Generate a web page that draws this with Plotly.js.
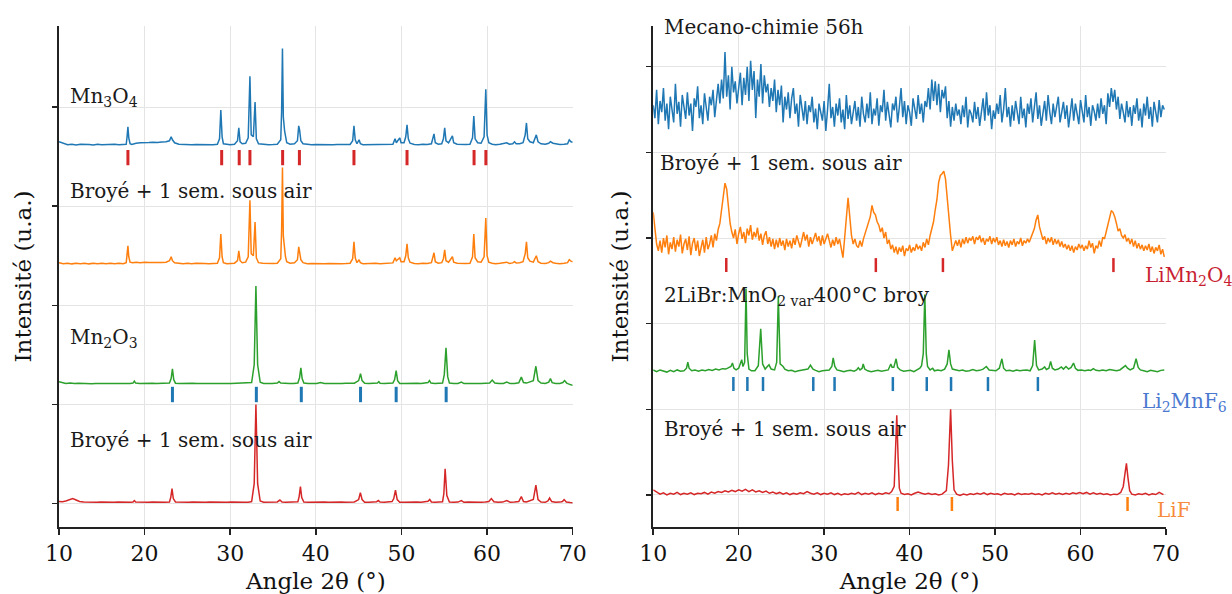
<!DOCTYPE html>
<html><head><meta charset="utf-8">
<script src="https://cdn.plot.ly/plotly-3.0.1.min.js"></script>
<style>html,body{margin:0;padding:0;background:#fff}#chart{width:1232px;height:594px}</style>
</head><body><div id="chart"></div>
<script>
// ---------------- DATA (2θ in degrees, intensity in arbitrary units) ----------------
// Left panel: Mn3O4 / Mn2O3 patterns, [2θ, intensity]
const mn3o4Profile = [[10,.05],[10.5,.035],[11,.02],[11.5,.025],[12,.018],[12.5,.025],[13,.02],[13.5,.022],[14,.018],[14.5,.025],[15,.02],[15.5,.022],[16,.018],[16.5,.025],[17,.02],[17.5,.022],[17.85,.025],[17.95,.1],[18.05,.2],[18.15,.09],[18.3,.03],[18.5,.022],[19,.035],[19.5,.04],[20,.038],[20.5,.042],[21,.045],[21.5,.042],[22,.048],[22.5,.05],[22.9,.06],[23.1,.1],[23.25,.07],[23.5,.04],[24,.025],[24.5,.022],[25,.02],[25.5,.02],[26,.022],[26.5,.02],[27,.021],[27.5,.02],[28,.02],[28.5,.025],[28.75,.08],[28.9,.37],[29.05,.1],[29.2,.03],[29.6,.022],[30,.02],[30.5,.025],[30.85,.06],[31,.19],[31.15,.05],[31.4,.03],[31.8,.035],[32.1,.09],[32.3,.71],[32.45,.12],[32.7,.1],[32.9,.45],[33.05,.08],[33.3,.03],[33.8,.025],[34.5,.02],[35,.022],[35.5,.025],[35.9,.07],[36,.35],[36.1,.99],[36.2,.3],[36.35,.16],[36.45,.12],[36.6,.04],[37,.025],[37.5,.03],[37.85,.06],[38,.21],[38.1,.17],[38.25,.06],[38.5,.03],[39,.022],[39.5,.02],[40,.022],[40.5,.02],[41,.022],[41.5,.02],[42,.02],[42.5,.022],[43,.02],[43.5,.02],[44,.022],[44.3,.06],[44.45,.21],[44.6,.07],[44.8,.03],[45.05,.07],[45.2,.03],[45.5,.02],[46,.02],[46.5,.022],[47,.02],[47.5,.02],[48,.022],[48.5,.02],[49,.025],[49.25,.08],[49.4,.04],[49.8,.09],[49.95,.04],[50.3,.04],[50.5,.1],[50.65,.22],[50.8,.08],[51,.035],[51.5,.022],[52,.02],[52.5,.025],[53,.022],[53.5,.03],[53.8,.13],[53.95,.04],[54.3,.025],[54.7,.03],[54.9,.08],[55.05,.19],[55.2,.06],[55.5,.04],[55.95,.11],[56.1,.04],[56.5,.025],[57,.02],[57.5,.022],[58,.025],[58.3,.09],[58.45,.31],[58.6,.08],[58.9,.04],[59.3,.035],[59.65,.1],[59.85,.58],[60,.12],[60.2,.04],[60.6,.025],[61,.02],[61.5,.025],[62,.03],[62.3,.04],[62.6,.025],[63,.03],[63.2,.05],[63.4,.03],[63.8,.03],[64.2,.04],[64.45,.12],[64.6,.24],[64.75,.08],[65,.05],[65.4,.04],[65.75,.12],[65.95,.05],[66.3,.03],[66.8,.025],[67.2,.035],[67.4,.05],[67.7,.035],[68,.03],[68.5,.022],[69,.025],[69.4,.03],[69.6,.07],[69.8,.05],[70,.045]];
const mn3o4AirProfile = [[10,.03],[10.5,.02],[11,.025],[11.5,.018],[12,.024],[12.5,.02],[13,.025],[13.5,.018],[14,.024],[14.5,.02],[15,.025],[15.5,.02],[16,.024],[16.5,.02],[17,.025],[17.5,.02],[17.85,.03],[17.95,.1],[18.05,.2],[18.15,.09],[18.3,.035],[18.6,.03],[19,.035],[19.5,.03],[20,.035],[20.5,.032],[21,.03],[21.5,.035],[22,.032],[22.5,.035],[22.9,.05],[23.1,.09],[23.25,.05],[23.5,.03],[24,.025],[24.5,.02],[25,.024],[25.5,.02],[26,.025],[26.5,.02],[27,.022],[27.5,.02],[28,.022],[28.5,.025],[28.75,.08],[28.9,.32],[29.05,.09],[29.2,.03],[29.6,.02],[30,.022],[30.5,.025],[30.85,.05],[31,.15],[31.15,.05],[31.4,.03],[31.8,.035],[32.1,.09],[32.3,.66],[32.45,.12],[32.7,.1],[32.9,.44],[33.05,.08],[33.3,.03],[33.8,.025],[34.5,.02],[35,.022],[35.5,.025],[35.9,.07],[36,.35],[36.1,.99],[36.2,.3],[36.35,.12],[36.45,.09],[36.6,.04],[37,.025],[37.5,.03],[37.85,.06],[38,.19],[38.1,.15],[38.25,.06],[38.5,.03],[39,.02],[39.5,.022],[40,.02],[40.5,.024],[41,.02],[41.5,.022],[42,.02],[42.5,.024],[43,.02],[43.5,.022],[44,.025],[44.3,.07],[44.45,.24],[44.6,.08],[44.8,.03],[45.05,.06],[45.2,.03],[45.5,.02],[46,.022],[46.5,.02],[47,.024],[47.5,.02],[48,.022],[48.5,.02],[49,.028],[49.25,.08],[49.4,.05],[49.8,.08],[49.95,.04],[50.3,.04],[50.5,.1],[50.65,.22],[50.8,.08],[51,.035],[51.5,.022],[52,.02],[52.5,.025],[53,.022],[53.5,.03],[53.8,.13],[53.95,.04],[54.3,.025],[54.7,.03],[54.9,.07],[55.05,.16],[55.2,.05],[55.5,.035],[55.95,.09],[56.1,.035],[56.5,.025],[57,.02],[57.5,.022],[58,.025],[58.3,.09],[58.45,.32],[58.6,.08],[58.9,.04],[59.3,.035],[59.65,.09],[59.85,.48],[60,.1],[60.2,.035],[60.6,.025],[61,.02],[61.5,.025],[62,.028],[62.3,.035],[62.6,.022],[63,.028],[63.2,.04],[63.4,.028],[63.8,.03],[64.2,.04],[64.45,.12],[64.6,.24],[64.75,.08],[65,.045],[65.4,.035],[65.75,.1],[65.95,.04],[66.3,.025],[66.8,.022],[67.2,.03],[67.4,.045],[67.7,.03],[68,.025],[68.5,.02],[69,.024],[69.4,.03],[69.6,.06],[69.8,.045],[70,.04]];
const mn2o3Profile = [[10,.03],[10.4,.02],[10.8,.012],[11.3,.015],[11.8,.01],[12.3,.014],[12.8,.01],[13.3,.013],[13.8,.009],[14.3,.012],[14.8,.01],[15.3,.014],[15.8,.01],[16.3,.012],[16.8,.009],[17.3,.013],[17.8,.01],[18.3,.012],[18.65,.015],[18.8,.035],[18.95,.015],[19.4,.01],[19.9,.012],[20.4,.01],[20.9,.013],[21.4,.01],[21.9,.012],[22.4,.011],[22.9,.015],[23.1,.06],[23.25,.16],[23.4,.05],[23.6,.014],[24.1,.01],[24.6,.012],[25.1,.01],[25.6,.013],[26.1,.01],[26.6,.012],[27.1,.009],[27.6,.012],[28.1,.01],[28.6,.013],[29.1,.01],[29.6,.012],[30.1,.01],[30.6,.012],[31.1,.01],[31.6,.012],[32.1,.011],[32.5,.02],[32.8,.2],[33,.995],[33.2,.2],[33.5,.025],[33.9,.012],[34.4,.01],[34.9,.012],[35.5,.015],[35.7,.03],[35.9,.015],[36.4,.01],[36.9,.012],[37.4,.01],[37.9,.015],[38.1,.07],[38.25,.17],[38.4,.06],[38.6,.015],[39.1,.01],[39.6,.012],[40.1,.01],[40.55,.02],[41,.01],[41.5,.012],[42,.01],[42.5,.012],[43,.01],[43.5,.013],[44,.01],[44.5,.014],[45,.04],[45.22,.11],[45.4,.04],[45.7,.013],[46.2,.01],[46.7,.012],[47.2,.015],[47.36,.03],[47.5,.014],[48,.01],[48.5,.012],[49,.015],[49.2,.05],[49.38,.14],[49.55,.04],[49.8,.012],[50.3,.01],[50.8,.012],[51.3,.01],[51.8,.013],[52.3,.01],[52.8,.012],[53.1,.02],[53.27,.04],[53.45,.015],[53.9,.012],[54.4,.01],[54.8,.015],[55,.1],[55.2,.37],[55.4,.08],[55.6,.015],[56.1,.01],[56.6,.012],[57,.025],[57.3,.01],[57.8,.012],[58.3,.01],[58.8,.012],[59.3,.01],[59.8,.013],[60.3,.015],[60.6,.045],[60.9,.015],[61.4,.01],[61.9,.012],[62.3,.025],[62.7,.01],[63.2,.012],[63.7,.018],[64,.075],[64.25,.02],[64.6,.015],[65.4,.04],[65.7,.185],[65.95,.04],[66.3,.015],[66.8,.012],[67.2,.025],[67.4,.06],[67.6,.02],[68,.01],[68.5,.012],[68.85,.02],[69.05,.04],[69.3,.015],[69.7,0],[70,-.008]];
const mn2o3AirProfile = [[10,.02],[10.4,.018],[10.8,.025],[11.2,.04],[11.6,.05],[12,.035],[12.4,.02],[12.9,.015],[13.4,.012],[13.9,.015],[14.4,.012],[14.9,.014],[15.4,.012],[15.9,.015],[16.4,.012],[16.9,.014],[17.4,.012],[17.9,.015],[18.4,.013],[18.65,.015],[18.8,.03],[18.95,.015],[19.4,.013],[19.9,.015],[20.4,.012],[20.9,.015],[21.4,.013],[21.9,.015],[22.4,.012],[22.9,.016],[23.05,.06],[23.2,.15],[23.35,.05],[23.6,.015],[24.1,.012],[24.6,.015],[25.1,.012],[25.6,.014],[26.1,.012],[26.6,.015],[27.1,.012],[27.6,.014],[28.1,.012],[28.6,.016],[29.1,.014],[29.6,.012],[30.1,.015],[30.6,.012],[31.1,.014],[31.6,.012],[32.1,.013],[32.5,.02],[32.8,.2],[33,1.0],[33.2,.2],[33.5,.025],[33.9,.012],[34.4,.014],[34.9,.012],[35.5,.016],[35.8,.035],[36.05,.015],[36.5,.012],[37,.014],[37.5,.012],[37.9,.018],[38.05,.07],[38.2,.17],[38.35,.06],[38.6,.015],[39.1,.012],[39.6,.014],[40.1,.012],[40.6,.02],[41,.015],[41.5,.012],[42,.014],[42.5,.012],[43,.014],[43.5,.012],[44,.014],[44.5,.016],[45,.04],[45.2,.11],[45.4,.04],[45.7,.013],[46.2,.012],[46.7,.014],[47.1,.018],[47.3,.03],[47.5,.014],[48,.012],[48.5,.015],[48.9,.02],[49.1,.05],[49.3,.135],[49.5,.04],[49.8,.013],[50.3,.012],[50.8,.014],[51.3,.012],[51.8,.014],[52.3,.012],[52.8,.014],[53.1,.022],[53.3,.04],[53.5,.015],[53.9,.012],[54.4,.014],[54.8,.018],[54.95,.1],[55.1,.35],[55.3,.08],[55.6,.016],[56.1,.012],[56.6,.014],[57,.03],[57.3,.012],[57.8,.014],[58.3,.012],[58.8,.014],[59.3,.012],[59.8,.015],[60.2,.02],[60.5,.05],[60.8,.018],[61.3,.012],[61.8,.014],[62.3,.03],[62.7,.012],[63.2,.014],[63.7,.02],[64,.07],[64.25,.02],[64.6,.016],[65.4,.04],[65.7,.185],[65.95,.04],[66.3,.015],[66.8,.012],[67.1,.025],[67.3,.055],[67.55,.02],[68,.012],[68.5,.014],[68.8,.02],[69,.04],[69.25,.015],[69.7,.01],[70,.008]];

// Right panel: noisy scans on a regular 2θ grid (start 10°, step 0.2°), one row = 2°
const scanStart = 10, scanStep = 0.2;
const mecanoValues = [
 0.10,-0.05,0.28,-0.12,0.15,0.02,0.30,-0.08,0.12,-0.18,
 0.20,0.05,-0.10,0.35,0.00,0.14,-0.15,0.22,0.06,-0.06,
 0.25,-0.02,0.12,-0.20,0.18,0.08,0.32,-0.05,0.10,-0.12,
 0.24,0.04,-0.08,0.20,0.10,0.28,-0.04,0.16,0.35,0.12,
 0.40,0.18,0.72,0.20,0.45,0.05,0.55,0.25,0.38,0.12,
 0.30,0.48,0.10,0.42,0.22,0.55,0.15,0.62,0.28,0.50,
 -0.05,0.40,0.20,0.58,0.12,0.45,0.25,0.35,0.08,0.30,
 0.15,0.40,0.02,0.28,0.10,0.33,-0.10,0.20,0.05,0.25,
 -0.05,0.18,0.30,0.00,0.12,-0.15,0.22,0.05,-0.08,0.15,
 -0.12,0.10,0.02,0.20,-0.10,0.06,-0.18,0.12,0.00,-0.08,
 0.15,-0.20,0.05,0.35,-0.05,0.08,-0.15,0.12,-0.02,0.18,
 -0.10,0.05,-0.18,0.22,-0.06,0.10,-0.12,0.02,0.15,-0.08,
 0.08,-0.15,0.20,0.00,-0.10,0.12,-0.05,0.25,-0.12,0.06,
 -0.02,0.18,-0.14,0.10,0.02,0.28,-0.08,0.14,0.00,-0.16,
 0.12,0.04,0.20,-0.10,0.08,0.30,-0.04,0.15,-0.12,0.10,
 0.02,-0.14,0.18,0.05,-0.06,0.22,0.00,0.12,-0.10,0.15,
 0.08,0.30,0.05,0.40,0.15,0.38,0.10,0.35,0.02,0.28,
 0.18,0.32,-0.05,0.15,-0.15,0.08,-0.08,0.12,-0.02,0.05,
 -0.12,0.10,-0.04,0.20,-0.16,0.05,0.00,-0.10,0.14,-0.06,
 0.08,-0.14,0.02,0.18,-0.08,0.25,-0.02,0.10,-0.18,0.04,
 -0.06,0.12,0.00,0.22,-0.10,0.05,0.30,-0.04,0.08,-0.15,
 0.10,-0.08,0.15,0.02,-0.12,0.20,-0.05,0.06,-0.16,0.12,
 0.00,0.18,-0.10,0.08,0.25,-0.06,0.10,-0.14,0.04,0.15,
 -0.08,0.22,0.02,-0.12,0.12,-0.04,0.08,0.20,-0.10,0.05,
 0.14,-0.06,0.10,-0.16,0.04,0.18,-0.08,0.12,0.00,-0.12,
 0.16,0.02,-0.10,0.22,-0.04,0.08,-0.14,0.10,0.03,-0.08,
 0.12,-0.05,0.18,0.00,0.10,-0.12,0.24,0.08,0.30,0.14,
 0.28,0.05,0.20,-0.06,0.12,0.02,-0.10,0.15,-0.04,0.08,
 -0.14,0.10,0.00,0.18,-0.08,0.06,-0.16,0.12,-0.02,0.20,
 -0.06,0.08,-0.15,0.14,0.02,-0.10,0.16,-0.04,0.10,0.05];
const limnAirValues = [
 0.35,0.12,-0.02,-0.10,0.02,-0.12,0.05,-0.06,0.08,-0.14,
 0.00,-0.08,0.06,-0.11,0.03,-0.05,0.09,-0.13,-0.02,0.04,
 -0.09,0.07,-0.15,-0.01,0.05,-0.10,0.02,-0.16,-0.04,0.03,
 -0.12,0.06,-0.08,-0.02,0.08,-0.06,0.10,0.02,0.15,0.22,
 0.38,0.55,0.69,0.62,0.42,0.22,0.12,0.05,0.15,-0.02,
 0.10,0.18,0.04,0.12,-0.01,0.16,0.08,0.20,0.03,0.12,
 0.06,0.17,0.02,0.10,-0.03,0.08,0.13,-0.02,0.06,-0.05,
 0.04,-0.08,0.03,-0.06,0.05,-0.04,0.02,-0.09,0.04,-0.05,
 0.02,-0.07,0.05,-0.03,0.08,0.00,-0.06,0.03,0.12,0.02,
 0.09,-0.05,0.06,-0.02,0.04,0.11,0.01,0.07,-0.04,0.08,
 -0.02,0.05,0.10,0.02,-0.06,0.03,-0.04,0.06,-0.02,0.04,
 -0.08,-0.18,0.05,0.32,0.52,0.30,0.08,-0.02,0.04,-0.04,
 -0.06,0.02,-0.05,0.04,0.10,0.16,0.22,0.30,0.43,0.35,
 0.32,0.24,0.20,0.12,0.17,0.05,0.12,-0.02,0.03,-0.08,
 -0.03,-0.12,-0.05,-0.14,-0.06,-0.11,-0.04,-0.16,-0.07,-0.10,
 -0.03,-0.12,-0.06,-0.10,-0.02,-0.08,-0.04,-0.10,0.00,-0.06,
 0.04,-0.03,0.08,0.15,0.24,0.38,0.50,0.70,0.78,0.80,
 0.83,0.74,0.50,0.35,0.08,-0.10,-0.05,0.02,-0.04,0.03,
 -0.06,0.04,-0.02,0.06,-0.01,0.05,0.02,0.07,-0.02,0.06,
 0.03,0.08,0.00,0.05,-0.03,0.04,0.01,0.07,-0.02,0.05,
 0.00,0.06,-0.03,0.02,-0.05,0.03,-0.04,0.01,-0.06,0.02,
 -0.03,0.04,-0.05,0.01,-0.02,0.05,-0.04,0.02,-0.01,0.04,
 0.00,0.06,0.10,0.16,0.26,0.32,0.18,0.10,0.03,0.07,
 -0.02,0.05,0.00,0.06,-0.03,0.04,-0.02,0.03,-0.05,0.01,
 -0.06,-0.02,-0.08,-0.03,-0.10,-0.04,-0.12,-0.05,-0.09,-0.02,
 -0.07,-0.03,-0.10,-0.04,-0.08,0.02,-0.06,-0.01,-0.13,-0.04,
 -0.07,0.02,-0.05,0.06,0.04,0.12,0.20,0.30,0.37,0.35,
 0.30,0.22,0.13,0.16,0.08,0.05,0.09,0.01,0.05,-0.02,
 0.04,-0.05,0.02,-0.07,-0.01,-0.08,-0.03,-0.10,-0.04,-0.09,
 -0.02,-0.11,-0.05,-0.13,-0.06,-0.10,-0.03,-0.14,-0.08,-0.17];
const librProfile = [[10,.01],[10.4,-.01],[10.8,.01],[11.2,0],[11.6,-.015],[12,.005],[12.4,-.01],[12.8,.01],[13.2,-.005],[13.6,0],[13.9,.03],[14.05,.1],[14.2,.03],[14.5,0],[14.9,.01],[15.3,-.005],[15.7,.01],[16.1,0],[16.5,.015],[16.9,.005],[17.3,.02],[17.7,.01],[18.1,.025],[18.5,.02],[18.9,.035],[19.1,.05],[19.27,.09],[19.45,.03],[19.7,.01],[20,.03],[20.36,.13],[20.5,.05],[20.7,.1],[20.86,.96],[21,.2],[21.2,.02],[21.5,0],[21.9,0],[22.3,.06],[22.58,.49],[22.8,.08],[23.1,.02],[23.35,.05],[23.55,.07],[23.8,.02],[24.2,.01],[24.45,.1],[24.64,.87],[24.85,.08],[25.2,.05],[25.4,.02],[25.8,0],[26.2,.005],[26.6,-.01],[27,0],[27.4,.005],[27.8,.01],[28.1,.02],[28.4,.065],[28.7,.02],[29,.005],[29.4,-.01],[29.8,0],[30.2,.005],[30.6,.01],[30.9,.05],[31.06,.15],[31.25,.05],[31.5,.01],[31.9,0],[32.3,-.01],[32.7,0],[33.1,.005],[33.5,-.005],[33.8,.01],[34,.035],[34.2,.01],[34.45,.03],[34.57,.08],[34.75,.02],[35.1,0],[35.5,-.01],[35.9,0],[36.3,.005],[36.7,-.005],[37.1,0],[37.5,.01],[37.8,.08],[37.95,.04],[38.15,.04],[38.42,.14],[38.6,.04],[38.9,.01],[39.3,-.005],[39.7,0],[40.1,.005],[40.5,-.01],[40.9,.01],[41.2,.03],[41.4,.06],[41.6,.2],[41.78,.89],[41.95,.2],[42.1,.05],[42.4,.01],[42.7,.03],[42.9,0],[43.3,.01],[43.7,0],[44.1,.02],[44.4,.08],[44.6,.245],[44.8,.08],[45,.02],[45.4,.01],[45.8,0],[46.2,.01],[46.6,-.005],[47,0],[47.4,.015],[47.8,0],[48.2,.005],[48.6,.02],[48.98,.05],[49.3,.01],[49.7,.005],[50.1,0],[50.5,.03],[50.8,.14],[51,.03],[51.3,0],[51.7,.005],[52.1,-.005],[52.5,.01],[52.9,0],[53.3,.005],[53.7,.01],[54.1,0],[54.4,.06],[54.63,.36],[54.85,.06],[55.1,.01],[55.5,.02],[55.8,.045],[56,.015],[56.3,.03],[56.5,.11],[56.7,.03],[57,.01],[57.4,.02],[57.75,.045],[58,.02],[58.3,.05],[58.6,.02],[58.9,.04],[59.18,.09],[59.4,.03],[59.7,.005],[60.1,.01],[60.5,0],[60.9,.01],[61.2,.005],[61.5,.025],[61.8,.005],[62.2,0],[62.6,.01],[63,0],[63.4,.015],[63.8,.005],[64.2,0],[64.6,.01],[64.9,.03],[65.26,.06],[65.5,.03],[65.8,.01],[66.2,.03],[66.5,.14],[66.75,.04],[67,.01],[67.4,0],[67.8,-.01],[68.2,.005],[68.6,0],[69,-.01],[69.4,.005],[69.8,.01]];
const librAirProfile = [[10,.06],[10.4,.03],[10.8,.01],[11.2,.025],[11.6,0],[12,.02],[12.4,.01],[12.8,.03],[13.2,.005],[13.6,.02],[14,.01],[14.4,.025],[14.8,.005],[15.2,.02],[15.6,.015],[16,.03],[16.4,.01],[16.8,.035],[17.2,.02],[17.6,.04],[18,.03],[18.4,.05],[18.8,.035],[19.2,.055],[19.6,.04],[20,.06],[20.4,.045],[20.8,.065],[21.2,.04],[21.6,.06],[22,.035],[22.4,.05],[22.8,.03],[23.2,.045],[23.6,.02],[24,.035],[24.4,.015],[24.8,.03],[25.2,.01],[25.6,.025],[26,.005],[26.4,.02],[26.8,.01],[27.2,.025],[27.6,.015],[28,.04],[28.4,.02],[28.8,.01],[29.2,.025],[29.6,.005],[30,.02],[30.4,.01],[30.8,.025],[31.2,.005],[31.6,.02],[32,0],[32.4,.015],[32.8,.005],[33.2,.02],[33.6,.01],[34,.03],[34.4,.005],[34.8,.02],[35.2,.01],[35.6,.025],[36,.005],[36.4,.02],[36.8,.01],[37.2,.025],[37.6,.015],[37.9,.04],[38.2,.1],[38.35,.5],[38.5,.93],[38.65,.45],[38.8,.08],[39,.02],[39.4,.005],[39.8,.015],[40.2,0],[40.6,.02],[41,.035],[41.4,.02],[41.8,.01],[42.2,.02],[42.6,.005],[43,.015],[43.4,0],[43.8,.01],[44.3,.05],[44.55,.35],[44.8,1.0],[45,.4],[45.2,.06],[45.5,.01],[45.9,-.005],[46.3,.01],[46.7,0],[47.1,.015],[47.5,.005],[47.9,.02],[48.3,.01],[48.7,.025],[49.1,.005],[49.5,.02],[49.9,.01],[50.3,.015],[50.7,0],[51.1,.02],[51.5,.01],[51.9,.015],[52.3,0],[52.7,.02],[53.1,.005],[53.5,.015],[53.9,.01],[54.3,.02],[54.7,.005],[55.1,.015],[55.5,0],[55.9,.02],[56.3,.01],[56.7,.025],[57.1,.01],[57.5,.02],[57.9,.005],[58.3,.02],[58.7,.01],[59.1,.025],[59.5,.015],[59.9,.03],[60.3,.015],[60.7,.03],[61.1,.01],[61.5,.025],[61.9,.01],[62.3,.02],[62.7,.005],[63.1,.015],[63.5,0],[63.9,.01],[64.3,.005],[64.7,.03],[65,.1],[65.2,.25],[65.37,.37],[65.55,.2],[65.75,.05],[66,.01],[66.4,0],[66.8,.015],[67.2,.005],[67.6,.02],[68,0],[68.4,.015],[68.8,.005],[69.2,.03],[69.6,.01],[69.7,.005]];

// Reference (database) reflection positions, 2θ
const mn3o4Refs = [18.05, 29.0, 31.05, 32.3, 36.12, 38.08, 44.45, 50.65, 58.48, 59.86];
const mn2o3Refs = [23.25, 33.05, 38.3, 45.22, 49.38, 55.22];
const limn2o4Refs = [18.55, 36.05, 43.9, 63.85];
const li2mnf6Refs = [19.38, 21.02, 22.85, 28.73, 31.22, 38.04, 42.01, 44.85, 49.17, 55.01];
const lifRefs = [38.6, 44.95, 65.5];

// Texts
const leftLabels = ['Mn<sub>3</sub>O<sub>4</sub>', 'Broyé + 1 sem. sous air', 'Mn<sub>2</sub>O<sub>3</sub>', 'Broyé + 1 sem. sous air'];
const rightLabels = ['Mecano-chimie 56h', 'Broyé + 1 sem. sous air', '2LiBr:MnO<sub>2 var</sub>400°C broy', 'Broyé + 1 sem. sous air'];
const phaseLabels = ['LiMn<sub>2</sub>O<sub>4</sub>', 'Li<sub>2</sub>MnF<sub>6</sub>', 'LiF'];
const xTickVals = [10, 20, 30, 40, 50, 60, 70];
const xTitle = 'Angle 2θ (°)';
const yTitle = 'Intensité (u.a.)';

// ---------------- STYLE / LAYOUT ----------------
const C = {blue:'#1f77b4', orange:'#ff7f0e', green:'#2ca02c', red:'#d62728',
           refRed:'#d62728', refBlue:'#1f77b4', refOrange:'#ff7f0e',
           labRed:'#c81e32', labBlue:'#4a78d0', labOrange:'#f78a3c'};
const FONT = 'DejaVu Serif, Liberation Serif, serif';
const leftOffsets = [3.6, 2.4, 1.2, 0];
const rightOffsets = [4.45, 2.95, 1.45, 0];

function profileTrace(pts, off, color, xa, ya) {
  return {type:'scatter', mode:'lines', x: pts.map(p => p[0]), y: pts.map(p => p[1] + off),
          line:{color, width:1.5}, xaxis:xa, yaxis:ya, hoverinfo:'skip'};
}
function gridTrace(vals, off, color, xa, ya) {
  return {type:'scatter', mode:'lines', x: vals.map((v, i) => scanStart + i * scanStep),
          y: vals.map(v => v + off), line:{color, width:1.5}, xaxis:xa, yaxis:ya, hoverinfo:'skip'};
}
function refTrace(pos, level, color, xa, ya, len, w) {
  return {type:'scatter', mode:'markers', x: pos, y: pos.map(() => level),
          marker:{symbol:'line-ns', size:len, color, line:{color, width:w}},
          xaxis:xa, yaxis:ya, hoverinfo:'skip'};
}

const traces = [
  profileTrace(mn3o4Profile, leftOffsets[0], C.blue, 'x', 'y'),
  profileTrace(mn3o4AirProfile, leftOffsets[1], C.orange, 'x', 'y'),
  profileTrace(mn2o3Profile, leftOffsets[2], C.green, 'x', 'y'),
  profileTrace(mn2o3AirProfile, leftOffsets[3], C.red, 'x', 'y'),
  refTrace(mn3o4Refs, 3.49, C.refRed, 'x', 'y', 11, 3),
  refTrace(mn2o3Refs, 1.10, C.refBlue, 'x', 'y', 11, 3),
  gridTrace(mecanoValues, rightOffsets[0], C.blue, 'x2', 'y2'),
  gridTrace(limnAirValues, rightOffsets[1], C.orange, 'x2', 'y2'),
  profileTrace(librProfile, rightOffsets[2], C.green, 'x2', 'y2'),
  profileTrace(librAirProfile, rightOffsets[3], C.red, 'x2', 'y2'),
  refTrace(limn2o4Refs, 2.684, C.refRed, 'x2', 'y2', 10, 2.5),
  refTrace(li2mnf6Refs, 1.295, C.refBlue, 'x2', 'y2', 10, 2.5),
  refTrace(lifRefs, -0.105, C.refOrange, 'x2', 'y2', 10, 2.5)
];

const yDomain = [0.1128, 0.9562];
function xAxis(domain, anchor) {
  return {domain, anchor, range:[10, 70], tickvals:xTickVals, ticks:'outside', ticklen:6, tickwidth:1.5,
    tickcolor:'#222', showline:true, linecolor:'#222', linewidth:1.8, showgrid:true, gridcolor:'#e4e4e4',
    gridwidth:1, zeroline:false, tickfont:{family:FONT, size:22, color:'#111'},
    title:{text:xTitle, font:{family:FONT, size:23, color:'#111'}, standoff:8}, automargin:false, fixedrange:true};
}
function yAxis(range, tickvals, anchor, standoff) {
  return {domain:yDomain, anchor, range, tickvals, showticklabels:false, ticks:'outside', ticklen:5, tickwidth:1.5,
    tickcolor:'#222', showline:true, linecolor:'#222', linewidth:1.8, showgrid:true, gridcolor:'#e4e4e4',
    gridwidth:1, zeroline:false,
    title:{text:yTitle, font:{family:FONT, size:23, color:'#111'}, standoff}, automargin:false, fixedrange:true};
}

function lab(text, x, y, xr, yr, color) {
  return {text, x, y, xref:xr, yref:yr, xanchor:'left', yanchor:'middle', showarrow:false,
          font:{family:FONT, size:20, color: color || '#1a1a1a'}};
}
const annotations = [
  lab(leftLabels[0], 11.1, 4.10, 'x', 'y'),
  lab(leftLabels[1], 11.1, 3.15, 'x', 'y'),
  lab(leftLabels[2], 11.1, 1.67, 'x', 'y'),
  lab(leftLabels[3], 11.1, 0.64, 'x', 'y'),
  lab(rightLabels[0], 10.99, 5.46, 'x2', 'y2'),
  lab(rightLabels[1], 10.53, 3.88, 'x2', 'y2'),
  lab(rightLabels[2], 10.99, 2.32, 'x2', 'y2'),
  lab(rightLabels[3], 11.06, 0.77, 'x2', 'y2'),
  lab(phaseLabels[0], 67.28, 2.56, 'x2', 'y2', C.labRed),
  lab(phaseLabels[1], 66.9, 1.09, 'x2', 'y2', C.labBlue),
  lab(phaseLabels[2], 68.68, -0.18, 'x2', 'y2', C.labOrange)
];

const layout = {
  width:1232, height:594, margin:{l:0, r:0, t:0, b:0},
  paper_bgcolor:'#fff', plot_bgcolor:'#fff', showlegend:false,
  xaxis: xAxis([59/1232, 572.7/1232], 'y'),
  yaxis: yAxis([-0.237, 4.818], [0, 1, 2, 3, 4], 'x', 14),
  xaxis2: xAxis([653.2/1232, 1166/1232], 'y2'),
  yaxis2: yAxis([-0.3736, 5.475], [0, 1, 2, 3, 4, 5], 'x2', 11),
  annotations
};

Plotly.newPlot('chart', traces, layout, {staticPlot:true, displayModeBar:false});
</script></body></html>
